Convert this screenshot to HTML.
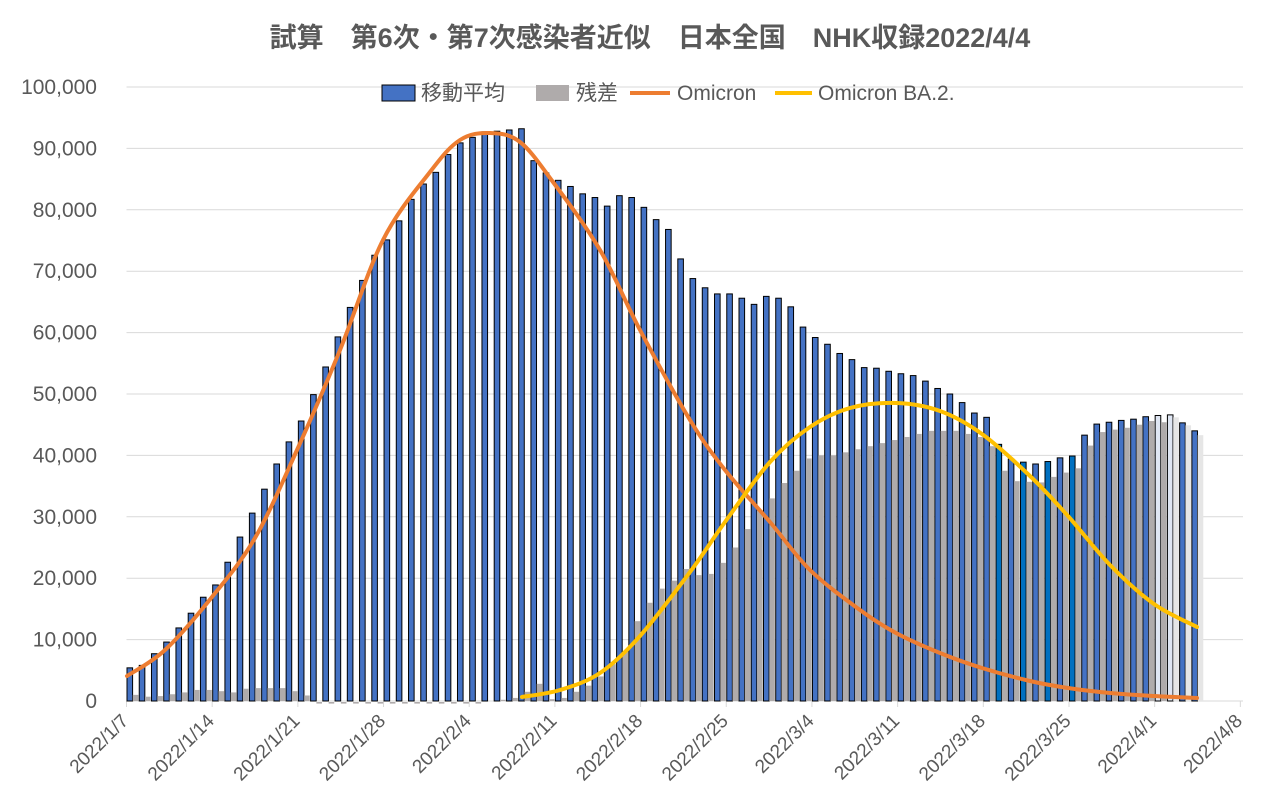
<!DOCTYPE html>
<html><head><meta charset="utf-8">
<style>
body{margin:0;background:#fff;}
svg{display:block;font-family:"Liberation Sans","Noto Sans CJK JP",sans-serif;}
</style></head>
<body>
<svg id="c" width="1286" height="809" xmlns="http://www.w3.org/2000/svg">
<text x="650" y="47" text-anchor="middle" font-size="27" font-weight="bold" fill="#595959">試算　第6次・第7次感染者近似　日本全国　NHK収録2022/4/4</text>
<g id="grid"></g>
<g id="bars"></g>
<g id="lines"></g>
<g id="labels"></g>
<g font-size="21" fill="#595959">
<rect x="382" y="85" width="33" height="16" fill="#4472C4" stroke="#000" stroke-width="1"/>
<text x="421" y="100">移動平均</text>
<rect x="536" y="85" width="33" height="16" fill="#AFABAB"/>
<text x="576" y="100">残差</text>
<line x1="630" y1="93" x2="670" y2="93" stroke="#ED7D31" stroke-width="4"/>
<text x="677" y="100">Omicron</text>
<line x1="775" y1="93" x2="812" y2="93" stroke="#FFC000" stroke-width="4"/>
<text x="818" y="100">Omicron BA.2.</text>
</g>
</svg>
<script>
const NS="http://www.w3.org/2000/svg";
function el(t,a,p,txt){const e=document.createElementNS(NS,t);for(const k in a)e.setAttribute(k,a[k]);if(txt!=null)e.textContent=txt;document.getElementById(p).appendChild(e);return e;}
const y0=701,k=6.14/1000,x0=126.5,dx=12.24;
const Y=v=>y0-v*1000*k;
for(let i=0;i<=10;i++){const y=Y(i*10);
 if(i>0)el('line',{x1:x0,x2:1243,y1:y,y2:y,stroke:'#d9d9d9','stroke-width':1},'grid');
 el('text',{x:97,y:y+7,'text-anchor':'end','font-size':21,fill:'#595959'},'labels',(i*10000).toLocaleString('en-US'));}
el('line',{x1:x0,x2:1243,y1:y0,y2:y0,stroke:'#d9d9d9','stroke-width':1},'grid');
const dates=['1/7','1/14','1/21','1/28','2/4','2/11','2/18','2/25','3/4','3/11','3/18','3/25','4/1','4/8'];
dates.forEach((d,i)=>{const x=x0+i*7*dx;
 el('line',{x1:x,x2:x,y1:y0,y2:y0+6,stroke:'#d9d9d9'},'grid');
 el('text',{x:x+3,y:y0+21,'text-anchor':'end','font-size':19,fill:'#595959',transform:`rotate(-45 ${x+3} ${y0+21})`},'labels','2022/'+d);});
const blue=[5.4,5.8,7.7,9.6,11.9,14.3,16.9,18.9,22.6,26.7,30.6,34.5,38.6,42.2,45.6,49.9,54.4,59.3,64.1,68.5,72.6,75.1,78.2,81.7,84.2,86.1,89.0,90.9,91.8,92.7,92.8,93.0,93.2,88.0,86.0,84.8,83.8,82.6,82.0,80.6,82.3,82.0,80.4,78.4,76.8,72.0,68.8,67.3,66.3,66.3,65.6,64.6,65.9,65.6,64.2,60.9,59.2,58.1,56.6,55.6,54.3,54.2,53.7,53.3,53.0,52.1,50.9,50.0,48.6,46.9,46.2,41.8,39.4,38.9,38.6,39.0,39.6,39.9,43.3,45.1,45.4,45.7,45.9,46.3,46.5,46.6,45.3,44.0];
const gray=[1.0,0.7,0.8,1.1,1.4,1.8,1.8,1.6,1.4,2.0,2.1,2.1,2.1,1.6,0.9,-0.3,-0.3,-0.3,-0.3,-0.3,-0.3,-0.3,-0.3,-0.3,-0.3,-0.3,-0.3,-0.3,-0.3,0,0.2,0.5,1.5,2.8,0.3,0.5,1.5,2.5,4,6,8,13,16,18.3,19.6,21.5,20.5,20.7,22.5,25,28,31,33,35.5,37.5,39.5,40,40,40.5,41,41.5,42,42.5,43,43.5,44,44,44,43.5,43,41.5,37.5,35.8,35.7,35.6,36.5,37.2,37.9,41.6,43.8,44.2,44.5,45.0,45.6,45.4,46.2,44.9,43.3];
blue.forEach((v,i)=>{const x=x0+i*dx;
 const fill=(i>=84&&i<=85)?'#dfe6f3':(i>=71&&i<=77&&i%2==1?'#0070C0':'#4472C4');
 el('rect',{x:x+0.5,y:Y(v),width:5.6,height:v*1000*k,fill:fill,stroke:'#000','stroke-width':1},'bars');
 const g=gray[i]||0;
 if(g>0){const gf=(i>=85)?'#e6e6e6':'#AFABAB';el('rect',{x:x+6.3,y:Y(g),width:5.6,height:g*1000*k,fill:gf},'bars');}
 else if(g<0){el('rect',{x:x+6.3,y:y0+1,width:5.6,height:1.6,fill:'#AFABAB'},'bars');}
});
function path(pts,c){let d='M'+pts[0].join(',');
 for(let i=0;i<pts.length-1;i++){const p0=pts[i-1]||pts[i],p1=pts[i],p2=pts[i+1],p3=pts[i+2]||p2;
  const c1=[p1[0]+(p2[0]-p0[0])/6,p1[1]+(p2[1]-p0[1])/6],c2=[p2[0]-(p3[0]-p1[0])/6,p2[1]-(p3[1]-p1[1])/6];
  d+=` C${c1} ${c2} ${p2}`;}
 el('path',{d:d,fill:'none',stroke:c,'stroke-width':4,'stroke-linecap':'round'},'lines');}
path([[127,676],[165,650],[212,597],[255,538],[297,450],[340,350],[383,240],[430,172],[460,140],[490,133],[520,142],[553,182],[600,250],[640,330],[690,420],[725,470],[770,522],[810,570],[860,610],[896,633],[940,653],[982,668],[1030,681],[1068,688],[1110,693],[1154,696],[1197,698]],'#ED7D31');
path([[522,697],[560,690],[600,673],[640,636],[690,572],[725,522],[770,462],[810,427],[850,408],[896,403],[940,411],[982,434],[1030,476],[1068,516],[1110,565],[1154,604],[1197,627]],'#FFC000');
</script>
</body></html>
